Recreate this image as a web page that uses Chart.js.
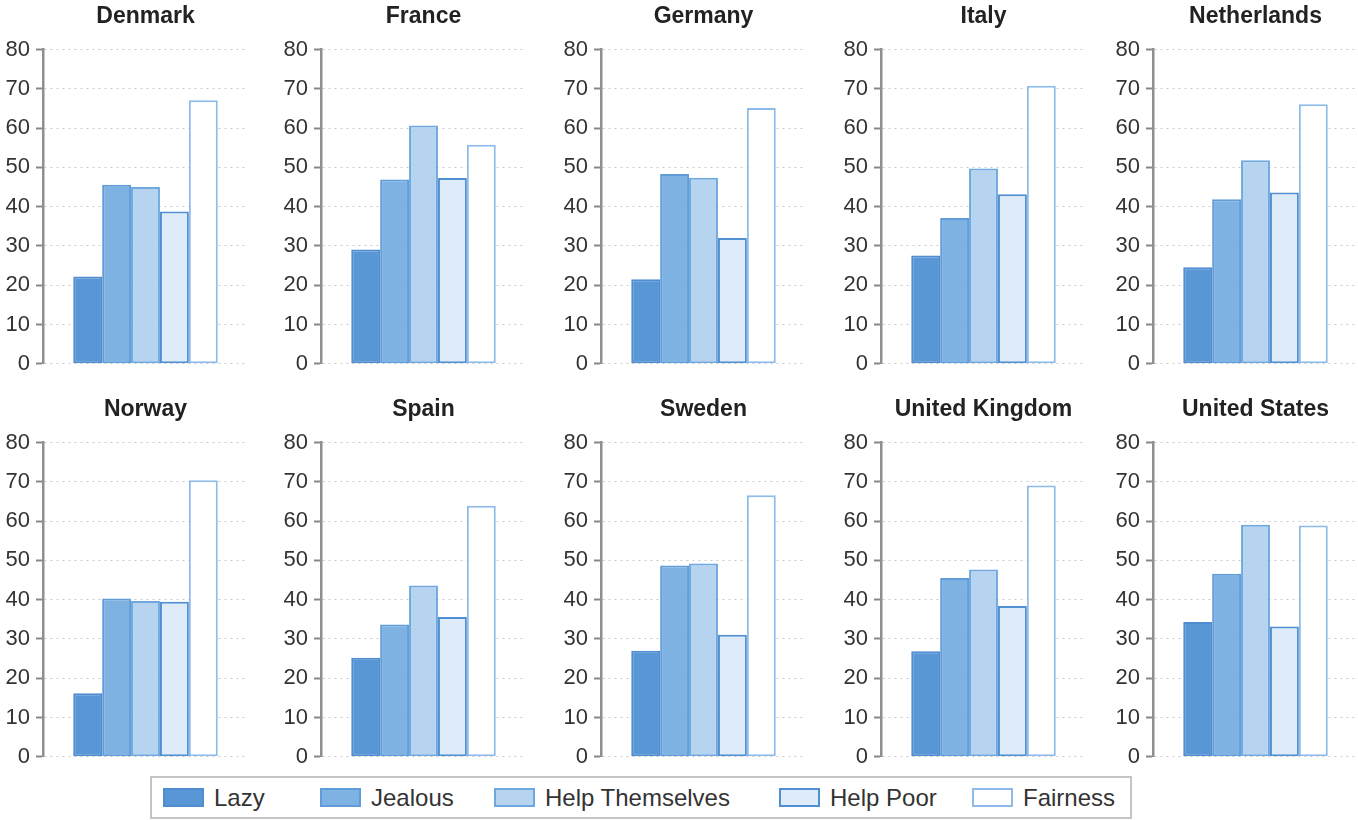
<!DOCTYPE html>
<html>
<head>
<meta charset="utf-8">
<script src="https://cdn.jsdelivr.net/npm/chart.js@4.4.1/dist/chart.umd.min.js"></script>
<style>
  html, body { margin: 0; padding: 0; background: #fff; }
  body { width: 1358px; height: 820px; position: relative; overflow: hidden; font-family: "Liberation Sans", Arial, sans-serif; }
  canvas.panel { position: absolute; }
  #legend { position: absolute; left: 150px; top: 776px; width: 978px; height: 39px; border: 2px solid #c4c4c4; box-sizing: content-box; }
  .item { position: absolute; top: 0; height: 39px; display: flex; align-items: center; }
  .sw { width: 41px; height: 19px; box-sizing: border-box; border: 2px solid #5b9bd5; margin-right: 10px; }
  .lab { font-size: 24px; color: #333; white-space: nowrap; }
</style>
</head>
<body>
<div id="legend"></div>
<script>
// ---- data ----
const countries = ["Denmark", "France", "Germany", "Italy", "Netherlands",
                   "Norway", "Spain", "Sweden", "United Kingdom", "United States"];
const seriesNames = ["Lazy", "Jealous", "Help Themselves", "Help Poor", "Fairness"];
const lazy           = [22.2, 29.1, 21.5, 27.6, 24.6, 16.2, 25.2, 27.0, 26.9, 34.3];
const jealous        = [45.6, 46.9, 48.3, 37.1, 41.9, 40.3, 33.7, 48.7, 45.5, 46.6];
const helpThemselves = [45.0, 60.7, 47.4, 49.7, 51.8, 39.7, 43.6, 49.2, 47.7, 59.1];
const helpPoor       = [38.8, 47.3, 32.0, 43.2, 43.6, 39.5, 35.6, 31.1, 38.4, 33.2];
const fairness       = [67.1, 55.8, 65.1, 70.8, 66.1, 70.4, 63.9, 66.6, 69.1, 58.9];
const yTicks = [0, 10, 20, 30, 40, 50, 60, 70, 80];

// ---- styles ----
const fills   = ["#5896d6", "#7eb2e2", "#b6d4ef", "#deebf8", "#ffffff"];
const borders = ["#4f8dd0", "#5f9cd8", "#6fa8de", "#4f8fd2", "#8ebcea"];
const seriesValues = [lazy, jealous, helpThemselves, helpPoor, fairness];

const axisX = [43, 321, 601, 881, 1153];
const rowTop = [0, 393];
const AXIS_W = 44, PLOT_W = 205, CANVAS_H = 383;

countries.forEach((name, i) => {
  const col = i % 5, row = Math.floor(i / 5);
  const cv = document.createElement('canvas');
  cv.className = 'panel';
  cv.width = AXIS_W + PLOT_W;
  cv.height = CANVAS_H;
  cv.style.left = (axisX[col] - AXIS_W) + 'px';
  cv.style.top = rowTop[row] + 'px';
  cv.style.width = cv.width + 'px';
  cv.style.height = cv.height + 'px';
  document.body.appendChild(cv);

  new Chart(cv, {
    type: 'bar',
    data: {
      labels: [name],
      datasets: seriesNames.map((s, k) => ({
        label: s,
        data: [seriesValues[k][i]],
        backgroundColor: fills[k],
        borderColor: borders[k],
        borderWidth: 2,
        borderSkipped: false,
        categoryPercentage: 0.705,
        barPercentage: 1.0
      }))
    },
    options: {
      responsive: false,
      animation: false,
      layout: { padding: { left: 0, right: 0, top: 0, bottom: 0 } },
      plugins: {
        legend: { display: false },
        tooltip: { enabled: false },
        title: {
          display: true,
          text: name,
          fullSize: false,
          color: '#222',
          font: { family: "'Liberation Sans', Arial, sans-serif", size: 23, weight: 'bold' },
          padding: { top: 3, bottom: 19 }
        }
      },
      scales: {
        x: { display: false },
        y: {
          min: 0, max: 80,
          afterBuildTicks: s => { s.ticks = yTicks.map(v => ({ value: v })); },
          afterFit: s => { s.width = AXIS_W; },
          ticks: {
            color: '#333',
            padding: 6,
            font: { family: "'Liberation Sans', Arial, sans-serif", size: 22 }
          },
          grid: {
            color: '#c9c9c9',
            lineWidth: 1,
            tickLength: 7,
            tickColor: '#888',
            tickWidth: 2,
            tickBorderDash: []
          },
          border: { display: true, color: '#8f8f8f', width: 2.5, dash: [2, 4] }
        }
      }
    }
  });
});

// ---- legend (html) ----
const legendLeft = [11, 168, 342, 627, 820];
const legend = document.getElementById('legend');
seriesNames.forEach((s, k) => {
  const it = document.createElement('div');
  it.className = 'item';
  it.style.left = legendLeft[k] + 'px';
  const sw = document.createElement('div');
  sw.className = 'sw';
  sw.style.background = fills[k];
  sw.style.borderColor = borders[k];
  const lab = document.createElement('span');
  lab.className = 'lab';
  lab.textContent = s;
  it.appendChild(sw); it.appendChild(lab);
  legend.appendChild(it);
});
</script>
</body>
</html>
